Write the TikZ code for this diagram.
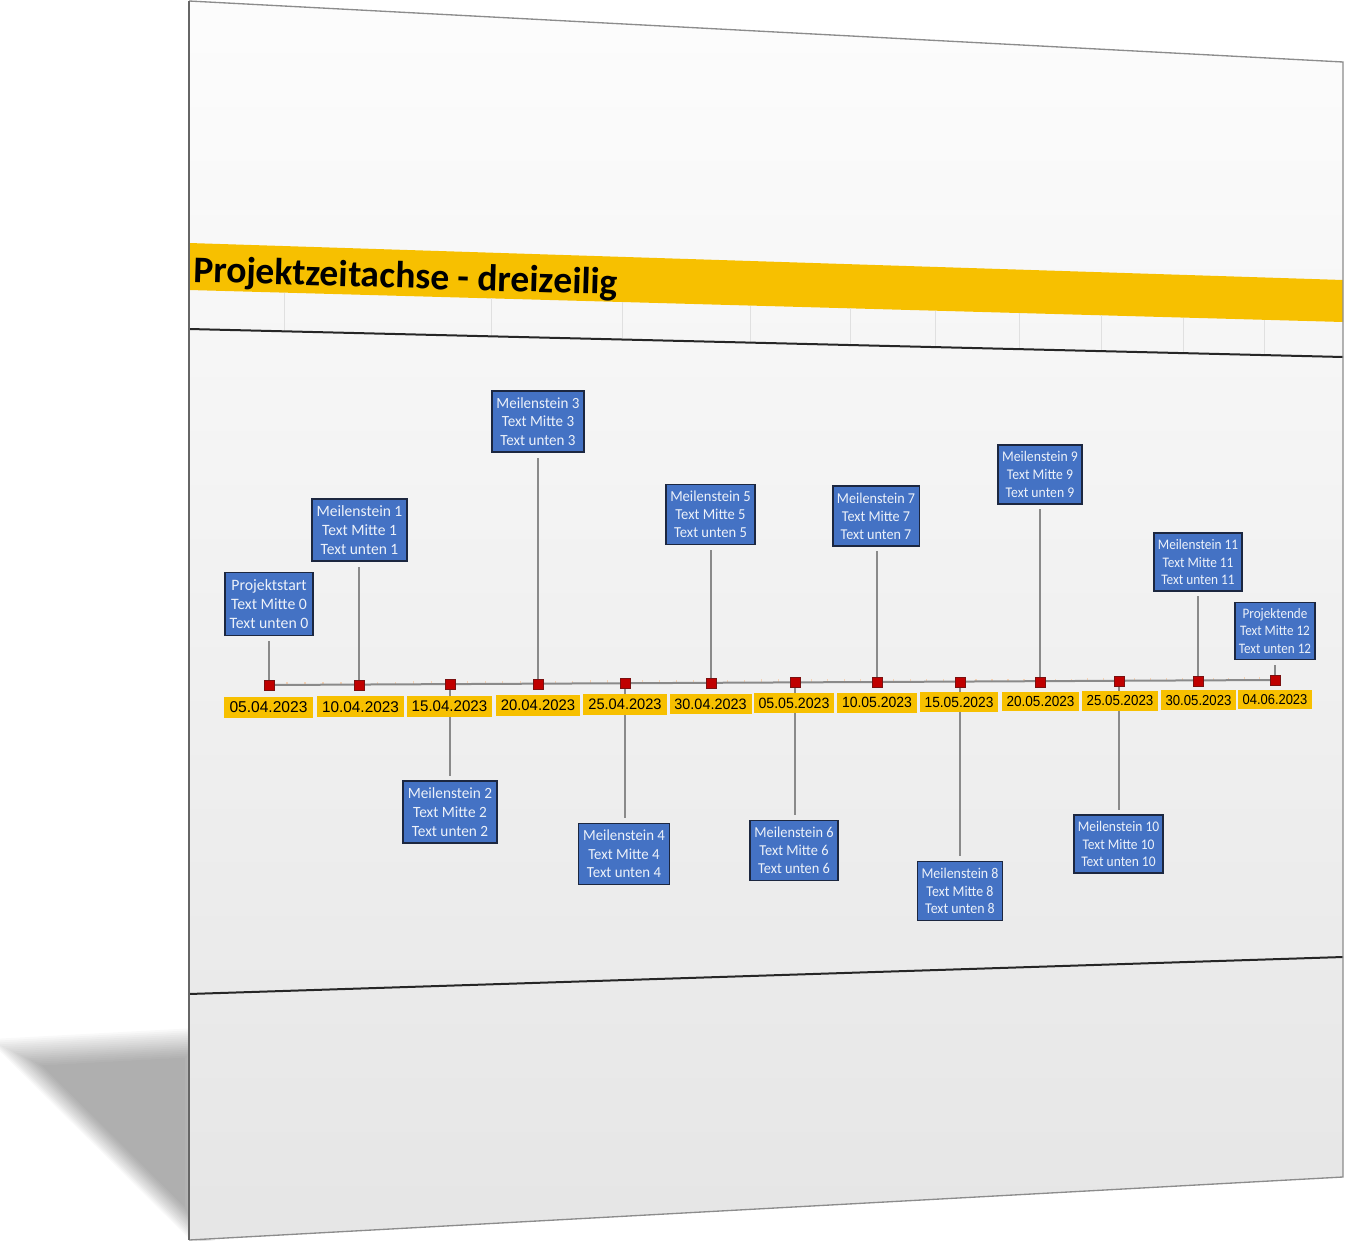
\documentclass[tikz,border=0pt]{standalone}
\usepackage{fontspec}
\setmainfont{Carlito}
\newfontfamily\arialf{Liberation Sans}
\usetikzlibrary{calc}
\definecolor{boxblue}{HTML}{4472C4}
\definecolor{boxborder}{HTML}{1C2740}
\definecolor{gold}{HTML}{F7C000}
\definecolor{mred}{HTML}{C00000}
\definecolor{mredd}{HTML}{7A1010}
\definecolor{conngray}{HTML}{8A8A8A}
\definecolor{tickc}{HTML}{F6D2B4}
\pgfdeclarelayer{pagebg}
\pgfdeclarelayer{bg}
\pgfsetlayers{pagebg,bg,main}
\begin{document}
\begin{tikzpicture}[x=0.75pt,y=-0.75pt,
  msbox/.style={draw=boxborder, line width=1.2pt, fill=boxblue, text=white!90!boxblue,
    font=\fontsize{12}{14.3}\selectfont, align=center, inner xsep=3.6pt, inner ysep=5.2pt, transform shape},
  datebox/.style={fill=gold, font=\arialf\fontsize{11.85}{13}\selectfont, minimum width=67.5pt,
    minimum height=16pt, inner sep=0pt, transform shape},
  marker/.style={fill=mred, draw=mredd, line width=0.5pt, minimum size=7.5pt, inner sep=0pt},
  conn/.style={draw=conngray, line width=1.5pt},
  colline/.style={draw=black!12, line width=0.6pt},
  pageline/.style={draw=black!85, line width=1.5pt},
]
\useasboundingbox (0,0) rectangle (1345,1241);

% ---------- page, shadow, header ----------
\begin{pgfonlayer}{pagebg}
  \coordinate (G) at (134,1110);
  \coordinate (SA) at (14,1052);
  \coordinate (SB) at (200,1042);
  \coordinate (SC) at (200,1236);
  \foreach \f in {1.22,1.19,...,0.75}
    \fill[black,opacity=0.022] ($(G)!\f!(SA)$) -- ($(G)!\f!(SB)$) -- ($(G)!\f!(SC)$) -- cycle;
  \shade[top color=white!99!black, middle color=white!94.5!black, bottom color=white!90!black]
    (189,1) -- (1343,62) -- (1343,1177) -- (189,1240) -- cycle;
  \fill[gold] (189,243) -- (1343,280) -- (1343,322) -- (189,290) -- cycle;
  \foreach \cx in {284,491,622,750,850,935,1019,1101,1183,1264}
    \draw[colline] (\cx,{290+0.02773*(\cx-189)}) -- (\cx,{329+0.02426*(\cx-189)});
  \draw[pageline] (189,329) -- (1343,357);
  \draw[pageline] (189,994) -- (1343,957);
  \draw[black!45, line width=1pt] (189,1) -- (1343,62) -- (1343,1177) -- (189,1240);
  \draw[black!60, line width=1.5pt] (189,1240) -- (189,1);
\end{pgfonlayer}

\node[font=\bfseries\fontsize{28.2}{30}\selectfont, anchor=base west, rotate=-1.7, inner sep=0pt] (title)
  at (193,282) {Projektzeitachse - dreizeilig};

% ---------- date cells ----------
\node[datebox, xscale=0.986, yscale=0.993] (d0)  at (268.5,707.5) {05.04.2023};
\node[datebox, xscale=0.970, yscale=0.985] (d1)  at (360.5,706.8) {10.04.2023};
\node[datebox, xscale=0.955, yscale=0.977] (d2)  at (449.5,706.1) {15.04.2023};
\node[datebox, xscale=0.940, yscale=0.970] (d3)  at (538,705.4)   {20.04.2023};
\node[datebox, xscale=0.926, yscale=0.962] (d4)  at (625,704.7)   {25.04.2023};
\node[datebox, xscale=0.911, yscale=0.954] (d5)  at (710.5,704.0) {30.04.2023};
\node[datebox, xscale=0.897, yscale=0.947] (d6)  at (794,703.3)   {05.05.2023};
\node[datebox, xscale=0.884, yscale=0.940] (d7)  at (877,702.7)   {10.05.2023};
\node[datebox, xscale=0.870, yscale=0.933] (d8)  at (959,702.0)   {15.05.2023};
\node[datebox, xscale=0.857, yscale=0.926] (d9)  at (1040.5,701.4){20.05.2023};
\node[datebox, xscale=0.844, yscale=0.919] (d10) at (1120,700.7)  {25.05.2023};
\node[datebox, xscale=0.832, yscale=0.912] (d11) at (1198.5,700.1){30.05.2023};
\node[datebox, xscale=0.819, yscale=0.905] (d12) at (1275,699.5)  {04.06.2023};

% ---------- markers ----------
\node[marker] (m0)  at (269,685) {};
\node[marker] (m1)  at (359,685) {};
\node[marker] (m2)  at (450,684) {};
\node[marker] (m3)  at (538,684) {};
\node[marker] (m4)  at (625,683) {};
\node[marker] (m5)  at (711,683) {};
\node[marker] (m6)  at (795,682) {};
\node[marker] (m7)  at (877,682) {};
\node[marker] (m8)  at (960,682) {};
\node[marker] (m9)  at (1040,682) {};
\node[marker] (m10) at (1119,681) {};
\node[marker] (m11) at (1198,681) {};
\node[marker] (m12) at (1275,680) {};

% ---------- milestone boxes ----------
\node[msbox, xscale=0.986, yscale=0.993] (b0)  at (269,604)    {Projektstart\\Text Mitte 0\\Text unten 0};
\node[msbox, xscale=0.970, yscale=0.985] (b1)  at (359.5,530)  {Meilenstein 1\\Text Mitte 1\\Text unten 1};
\node[msbox, xscale=0.955, yscale=0.977] (b2)  at (450,812)    {Meilenstein 2\\Text Mitte 2\\Text unten 2};
\node[msbox, xscale=0.940, yscale=0.970] (b3)  at (538,421.5)  {Meilenstein 3\\Text Mitte 3\\Text unten 3};
\node[msbox, xscale=0.926, yscale=0.962] (b4)  at (624,854)    {Meilenstein 4\\Text Mitte 4\\Text unten 4};
\node[msbox, xscale=0.911, yscale=0.954] (b5)  at (710.5,514.5){Meilenstein 5\\Text Mitte 5\\Text unten 5};
\node[msbox, xscale=0.897, yscale=0.947] (b6)  at (794,850.5)  {Meilenstein 6\\Text Mitte 6\\Text unten 6};
\node[msbox, xscale=0.884, yscale=0.940] (b7)  at (876,516)    {Meilenstein 7\\Text Mitte 7\\Text unten 7};
\node[msbox, xscale=0.870, yscale=0.933] (b8)  at (960,891)    {Meilenstein 8\\Text Mitte 8\\Text unten 8};
\node[msbox, xscale=0.857, yscale=0.926] (b9)  at (1040,474.5) {Meilenstein 9\\Text Mitte 9\\Text unten 9};
\node[msbox, xscale=0.844, yscale=0.919] (b10) at (1118.5,844) {Meilenstein 10\\Text Mitte 10\\Text unten 10};
\node[msbox, xscale=0.832, yscale=0.912] (b11) at (1198,562)   {Meilenstein 11\\Text Mitte 11\\Text unten 11};
\node[msbox, xscale=0.819, yscale=0.905] (b12) at (1275,631)   {Projektende\\Text Mitte 12\\Text unten 12};

% ---------- timeline, ticks, connectors ----------
\begin{pgfonlayer}{bg}
  \foreach \i [evaluate=\i as \j using int(\i+1)] in {0,...,11}
    \foreach \k in {1,2,3,4}
      \draw[tickc, line width=0.8pt] ($(m\i.center)!\k/5!(m\j.center)$) -- ++(0,-3);
  \draw[conn] (m0.center) -- (m12.center);
  \foreach \i in {0,1,3,5,7,9,11,12}
    \draw[conn, shorten >=3.5pt] (m\i.center) -- (m\i.center |- b\i.south);
  \foreach \i in {2,4,6,8,10}
    \draw[conn, shorten >=3.5pt] (m\i.center) -- (m\i.center |- b\i.north);
\end{pgfonlayer}
\end{tikzpicture}
\end{document}
